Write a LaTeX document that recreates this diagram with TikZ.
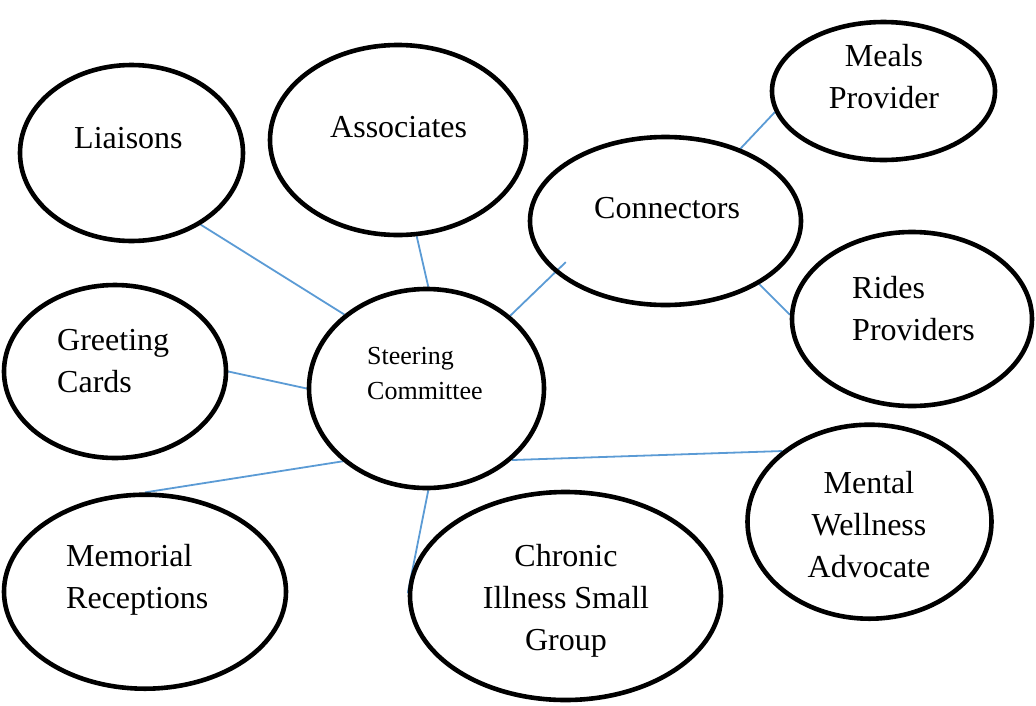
\documentclass[tikz,border=0pt]{standalone}
\usepackage{fontspec}
\setmainfont{Liberation Serif}
\usetikzlibrary{shapes.geometric, backgrounds}
\definecolor{linkblue}{RGB}{91,155,213}
\tikzstyle{bubble}=[draw,ellipse,line width=4.6pt,inner sep=0pt]
\tikzstyle{txt}=[inner sep=0pt,font=\fontsize{32}{42}\selectfont]
\tikzstyle{small}=[inner sep=0pt,font=\fontsize{26}{35}\selectfont]
\tikzstyle{link}=[linkblue,line width=1.8pt]

\begin{document}
\begin{tikzpicture}[x=1pt,y=-1pt]
    \useasboundingbox (0,0) rectangle (1036,705);
    % the circles
    \foreach \n/\p/\w/\h in {liai/{131.5,153}/223/176, assoc/{398,140}/256/190,
            conn/{665.5,221}/271/168, meals/{883.5,91}/223/138,
            rides/{912,319}/240/174, greet/{115,371.5}/222/173,
            steer/{426.5,388.5}/235/199, memo/{145,591.7}/282/194,
            chron/{565.5,596}/311/208, mental/{869.5,521.7}/244/194}
        \node[bubble,minimum width=\w pt,minimum height=\h pt] (\n) at (\p) {};
    % their texts (base = last line)
    \node[txt,anchor=base west] (liai-t) at (74,148) {Liaisons};
    \node[txt,anchor=base west] (assoc-t) at (330,137) {Associates};
    \node[txt,anchor=base west] (conn-t) at (594,218) {Connectors};
    \node[txt,anchor=base,align=center] (meals-t) at (884,108) {Meals\\Provider};
    \node[txt,anchor=base west,align=left] (rides-t) at (852,340) {Rides\\Providers};
    \node[txt,anchor=base west,align=left] (greet-t) at (57,392) {Greeting\\Cards};
    \node[small,anchor=base west,align=left] (steer-t) at (367,399) {Steering\\Committee};
    \node[txt,anchor=base west,align=left] (memo-t) at (66,608) {Memorial\\Receptions};
    \node[txt,anchor=base,align=center] (chron-t) at (566,650) {Chronic\\Illness Small\\Group};
    \node[txt,anchor=base,align=center] (mental-t) at (869,577) {Mental\\Wellness\\Advocate};
    % links
    \begin{pgfonlayer}{background}
        \foreach \a/\b in {liai.-46/steer.138, assoc.-79/steer.89, meals.-169/conn.44,
                conn.-34/rides.178, greet.0/steer.180, memo.90/steer.-139,
                steer.-89/chron.179, steer.-40/mental.141}
            \draw[link] (\a) -- (\b);
        \draw[link,shorten <=-15pt] (conn.-155) -- (steer.41);
    \end{pgfonlayer}
\end{tikzpicture}
\end{document}
